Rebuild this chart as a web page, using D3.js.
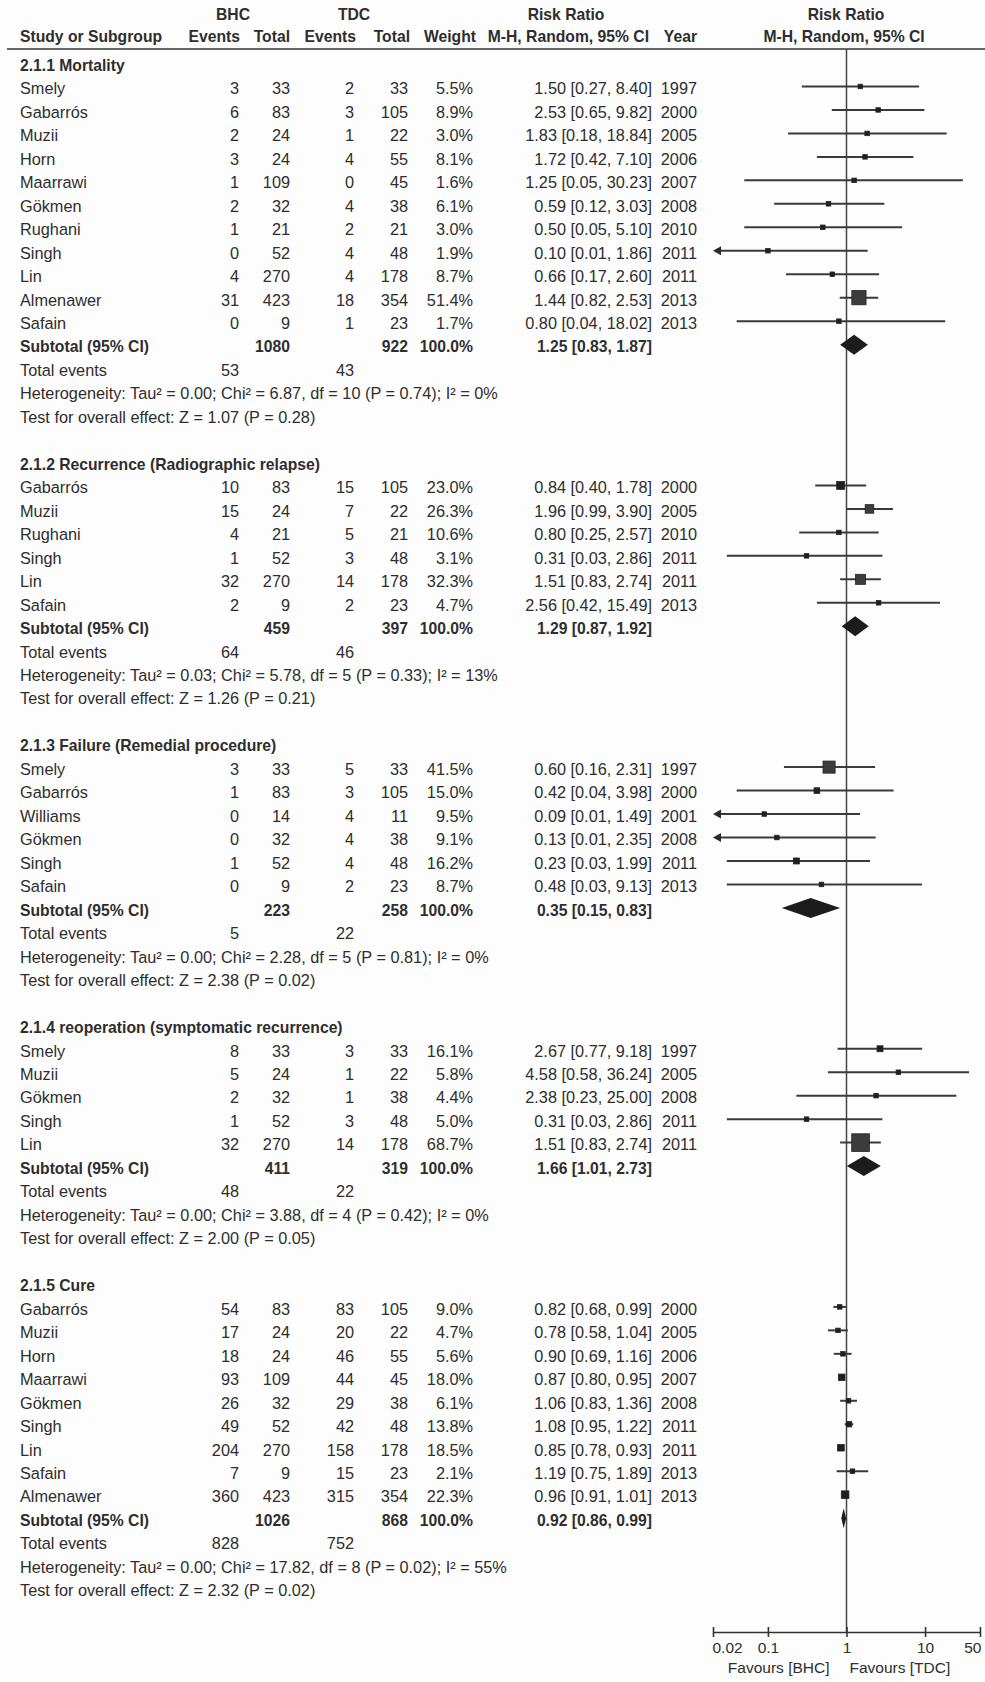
<!DOCTYPE html>
<html>
<head>
<meta charset="utf-8">
<script src="https://cdn.jsdelivr.net/npm/d3@7/dist/d3.min.js"></script>
<style>
  html, body { margin: 0; padding: 0; background: #ffffff; }
  svg { display: block; }
  text { font-family: "Liberation Sans", Arial, sans-serif; font-size: 16.3px; fill: #2e2e2e; }
  text.b { font-weight: bold; font-size: 15.7px; }
  text.ax { font-size: 15.5px; }
</style>
</head>
<body>
<svg id="chart" width="985" height="1682"></svg>
<script>
// ---- 2.1.1 Mortality ----
const mortTitle = "2.1.1 Mortality";
const mortStudies = ["Smely", "Gabarrós", "Muzii", "Horn", "Maarrawi", "Gökmen", "Rughani", "Singh", "Lin", "Almenawer", "Safain"];
const mortBhcEvents = [3, 6, 2, 3, 1, 2, 1, 0, 4, 31, 0];
const mortBhcTotal = [33, 83, 24, 24, 109, 32, 21, 52, 270, 423, 9];
const mortTdcEvents = [2, 3, 1, 4, 0, 4, 2, 4, 4, 18, 1];
const mortTdcTotal = [33, 105, 22, 55, 45, 38, 21, 48, 178, 354, 23];
const mortWeight = [5.5, 8.9, 3.0, 8.1, 1.6, 6.1, 3.0, 1.9, 8.7, 51.4, 1.7];
const mortRR = [1.50, 2.53, 1.83, 1.72, 1.25, 0.59, 0.50, 0.10, 0.66, 1.44, 0.80];
const mortLo = [0.27, 0.65, 0.18, 0.42, 0.05, 0.12, 0.05, 0.01, 0.17, 0.82, 0.04];
const mortHi = [8.40, 9.82, 18.84, 7.10, 30.23, 3.03, 5.10, 1.86, 2.60, 2.53, 18.02];
const mortYear = [1997, 2000, 2005, 2006, 2007, 2008, 2010, 2011, 2011, 2013, 2013];
const mortSubtotal = [1080, 922, 1.25, 0.83, 1.87];
const mortTotalEvents = [53, 43];
const mortHet = "Heterogeneity: Tau² = 0.00; Chi² = 6.87, df = 10 (P = 0.74); I² = 0%";
const mortTest = "Test for overall effect: Z = 1.07 (P = 0.28)";

// ---- 2.1.2 Recurrence ----
const recTitle = "2.1.2 Recurrence (Radiographic relapse)";
const recStudies = ["Gabarrós", "Muzii", "Rughani", "Singh", "Lin", "Safain"];
const recBhcEvents = [10, 15, 4, 1, 32, 2];
const recBhcTotal = [83, 24, 21, 52, 270, 9];
const recTdcEvents = [15, 7, 5, 3, 14, 2];
const recTdcTotal = [105, 22, 21, 48, 178, 23];
const recWeight = [23.0, 26.3, 10.6, 3.1, 32.3, 4.7];
const recRR = [0.84, 1.96, 0.80, 0.31, 1.51, 2.56];
const recLo = [0.40, 0.99, 0.25, 0.03, 0.83, 0.42];
const recHi = [1.78, 3.90, 2.57, 2.86, 2.74, 15.49];
const recYear = [2000, 2005, 2010, 2011, 2011, 2013];
const recSubtotal = [459, 397, 1.29, 0.87, 1.92];
const recTotalEvents = [64, 46];
const recHet = "Heterogeneity: Tau² = 0.03; Chi² = 5.78, df = 5 (P = 0.33); I² = 13%";
const recTest = "Test for overall effect: Z = 1.26 (P = 0.21)";

// ---- 2.1.3 Failure ----
const failTitle = "2.1.3 Failure (Remedial procedure)";
const failStudies = ["Smely", "Gabarrós", "Williams", "Gökmen", "Singh", "Safain"];
const failBhcEvents = [3, 1, 0, 0, 1, 0];
const failBhcTotal = [33, 83, 14, 32, 52, 9];
const failTdcEvents = [5, 3, 4, 4, 4, 2];
const failTdcTotal = [33, 105, 11, 38, 48, 23];
const failWeight = [41.5, 15.0, 9.5, 9.1, 16.2, 8.7];
const failRR = [0.60, 0.42, 0.09, 0.13, 0.23, 0.48];
const failLo = [0.16, 0.04, 0.01, 0.01, 0.03, 0.03];
const failHi = [2.31, 3.98, 1.49, 2.35, 1.99, 9.13];
const failYear = [1997, 2000, 2001, 2008, 2011, 2013];
const failSubtotal = [223, 258, 0.35, 0.15, 0.83];
const failTotalEvents = [5, 22];
const failHet = "Heterogeneity: Tau² = 0.00; Chi² = 2.28, df = 5 (P = 0.81); I² = 0%";
const failTest = "Test for overall effect: Z = 2.38 (P = 0.02)";

// ---- 2.1.4 Reoperation ----
const reopTitle = "2.1.4 reoperation (symptomatic recurrence)";
const reopStudies = ["Smely", "Muzii", "Gökmen", "Singh", "Lin"];
const reopBhcEvents = [8, 5, 2, 1, 32];
const reopBhcTotal = [33, 24, 32, 52, 270];
const reopTdcEvents = [3, 1, 1, 3, 14];
const reopTdcTotal = [33, 22, 38, 48, 178];
const reopWeight = [16.1, 5.8, 4.4, 5.0, 68.7];
const reopRR = [2.67, 4.58, 2.38, 0.31, 1.51];
const reopLo = [0.77, 0.58, 0.23, 0.03, 0.83];
const reopHi = [9.18, 36.24, 25.00, 2.86, 2.74];
const reopYear = [1997, 2005, 2008, 2011, 2011];
const reopSubtotal = [411, 319, 1.66, 1.01, 2.73];
const reopTotalEvents = [48, 22];
const reopHet = "Heterogeneity: Tau² = 0.00; Chi² = 3.88, df = 4 (P = 0.42); I² = 0%";
const reopTest = "Test for overall effect: Z = 2.00 (P = 0.05)";

// ---- 2.1.5 Cure ----
const cureTitle = "2.1.5 Cure";
const cureStudies = ["Gabarrós", "Muzii", "Horn", "Maarrawi", "Gökmen", "Singh", "Lin", "Safain", "Almenawer"];
const cureBhcEvents = [54, 17, 18, 93, 26, 49, 204, 7, 360];
const cureBhcTotal = [83, 24, 24, 109, 32, 52, 270, 9, 423];
const cureTdcEvents = [83, 20, 46, 44, 29, 42, 158, 15, 315];
const cureTdcTotal = [105, 22, 55, 45, 38, 48, 178, 23, 354];
const cureWeight = [9.0, 4.7, 5.6, 18.0, 6.1, 13.8, 18.5, 2.1, 22.3];
const cureRR = [0.82, 0.78, 0.90, 0.87, 1.06, 1.08, 0.85, 1.19, 0.96];
const cureLo = [0.68, 0.58, 0.69, 0.80, 0.83, 0.95, 0.78, 0.75, 0.91];
const cureHi = [0.99, 1.04, 1.16, 0.95, 1.36, 1.22, 0.93, 1.89, 1.01];
const cureYear = [2000, 2005, 2006, 2007, 2008, 2011, 2011, 2013, 2013];
const cureSubtotal = [1026, 868, 0.92, 0.86, 0.99];
const cureTotalEvents = [828, 752];
const cureHet = "Heterogeneity: Tau² = 0.00; Chi² = 17.82, df = 8 (P = 0.02); I² = 55%";
const cureTest = "Test for overall effect: Z = 2.32 (P = 0.02)";

// Axis
const axisTicks = [0.02, 0.1, 1, 10, 50];
const axisTickLabels = ["0.02", "0.1", "1", "10", "50"];
const favoursLeft = "Favours [BHC]";
const favoursRight = "Favours [TDC]";

// Assemble subgroup records for the drawing loop
const sections = [
  [mortTitle, mortStudies, mortBhcEvents, mortBhcTotal, mortTdcEvents, mortTdcTotal, mortWeight, mortRR, mortLo, mortHi, mortYear, mortSubtotal, mortTotalEvents, mortHet, mortTest],
  [recTitle, recStudies, recBhcEvents, recBhcTotal, recTdcEvents, recTdcTotal, recWeight, recRR, recLo, recHi, recYear, recSubtotal, recTotalEvents, recHet, recTest],
  [failTitle, failStudies, failBhcEvents, failBhcTotal, failTdcEvents, failTdcTotal, failWeight, failRR, failLo, failHi, failYear, failSubtotal, failTotalEvents, failHet, failTest],
  [reopTitle, reopStudies, reopBhcEvents, reopBhcTotal, reopTdcEvents, reopTdcTotal, reopWeight, reopRR, reopLo, reopHi, reopYear, reopSubtotal, reopTotalEvents, reopHet, reopTest],
  [cureTitle, cureStudies, cureBhcEvents, cureBhcTotal, cureTdcEvents, cureTdcTotal, cureWeight, cureRR, cureLo, cureHi, cureYear, cureSubtotal, cureTotalEvents, cureHet, cureTest]
].map(s => ({
  title: s[0],
  studies: s[1].map((name, i) => ({
    name, be: s[2][i], bt: s[3][i], te: s[4][i], tt: s[5][i],
    w: s[6][i], rr: s[7][i], lo: s[8][i], hi: s[9][i], year: s[10][i]
  })),
  sub: { bt: s[11][0], tt: s[11][1], rr: s[11][2], lo: s[11][3], hi: s[11][4] },
  events: s[12], het: s[13], test: s[14]
}));

// Flatten into table rows
const rows = [];
sections.forEach((sec, si) => {
  rows.push({ type: "title", text: sec.title });
  sec.studies.forEach(d => rows.push({ type: "study", d }));
  rows.push({ type: "subtotal", d: sec.sub });
  rows.push({ type: "events", d: sec.events });
  rows.push({ type: "note", text: sec.het });
  rows.push({ type: "note", text: sec.test });
  if (si < sections.length - 1) rows.push({ type: "blank" });
});

// ---- layout ----
const W = 985, H = 1682;
const row0 = 65, pitch = 23.47, base = 5.8, markShift = -2;
const col = {
  name: 20, be: 239, bt: 290, te: 354, tt: 408, w: 473, rr: 652, year: 697
};
const plotL = 713, plotR = 980;
const headerLineY = 49;
const axisY = 1632;

const svg = d3.select("#chart");
svg.append("rect").attr("width", W).attr("height", H).attr("fill", "#fdfdfd");

const x = d3.scaleLog().domain([0.02, 50]).range([plotL, plotR]);
const y = i => row0 + i * pitch;

// ---- header ----
const hdr = svg.append("g");
const h1 = 19.5, h2 = 41.5;
hdr.append("text").attr("class", "b").attr("x", 233).attr("y", h1).attr("text-anchor", "middle").text("BHC");
hdr.append("text").attr("class", "b").attr("x", 354).attr("y", h1).attr("text-anchor", "middle").text("TDC");
hdr.append("text").attr("class", "b").attr("x", 566).attr("y", h1).attr("text-anchor", "middle").text("Risk Ratio");
hdr.append("text").attr("class", "b").attr("x", 846).attr("y", h1).attr("text-anchor", "middle").text("Risk Ratio");
[
  ["Study or Subgroup", col.name, "start"],
  ["Events", col.be + 1, "end"],
  ["Total", col.bt, "end"],
  ["Events", col.te + 2, "end"],
  ["Total", col.tt + 2, "end"],
  ["Weight", col.w + 3, "end"],
  ["M-H, Random, 95% CI", 649, "end"],
  ["Year", col.year, "end"],
  ["M-H, Random, 95% CI", 844, "middle"]
].forEach(([t, xx, a]) => {
  hdr.append("text").attr("class", "b").attr("x", xx).attr("y", h2).attr("text-anchor", a).text(t);
});
hdr.append("line").attr("x1", 7).attr("x2", W).attr("y1", headerLineY).attr("y2", headerLineY)
  .attr("stroke", "#333").attr("stroke-width", 1.6);

// ---- line of no effect ----
svg.append("line").attr("x1", x(1)).attr("x2", x(1)).attr("y1", headerLineY).attr("y2", axisY)
  .attr("stroke", "#444").attr("stroke-width", 1.5);

// ---- table rows and marks ----
const fmt = v => v.toFixed(2);
const ciText = d => `${fmt(d.rr)} [${fmt(d.lo)}, ${fmt(d.hi)}]`;
const body = svg.append("g");
const marks = svg.append("g");
const txt = (xx, yy, t, anchor, bold) =>
  body.append("text").attr("x", xx).attr("y", yy).attr("text-anchor", anchor || "end")
    .attr("class", bold ? "b" : null).text(t);

rows.forEach((r, i) => {
  const ty = y(i) + base, cy = y(i) + markShift;
  if (r.type === "title") {
    txt(col.name, ty, r.text, "start", true);
  } else if (r.type === "study") {
    const d = r.d;
    txt(col.name, ty, d.name, "start");
    txt(col.be, ty, d.be);
    txt(col.bt, ty, d.bt);
    txt(col.te, ty, d.te);
    txt(col.tt, ty, d.tt);
    txt(col.w, ty, d.w.toFixed(1) + "%");
    txt(col.rr, ty, ciText(d));
    txt(col.year, ty, d.year);

    // confidence interval whisker, with an arrow where it runs off the scale
    const clipped = d.lo < x.domain()[0];
    const x1 = clipped ? x(x.domain()[0]) + 2 : x(d.lo);
    marks.append("line").attr("x1", x1).attr("x2", x(Math.min(d.hi, x.domain()[1])))
      .attr("y1", cy).attr("y2", cy).attr("stroke", "#3a3a3a").attr("stroke-width", 2);
    if (clipped) {
      const ax = x(x.domain()[0]);
      marks.append("path")
        .attr("d", `M${ax},${cy} L${ax + 8},${cy - 4.5} L${ax + 8},${cy + 4.5} Z`)
        .attr("fill", "#2a2a2a");
    }
    // study weight box
    const s = Math.max(4.5, 0.74 * Math.pow(d.w, 0.75));
    marks.append("rect").attr("x", x(d.rr) - s / 2).attr("y", cy - s / 2)
      .attr("width", s).attr("height", s)
      .attr("fill", s > 8 ? "#3c3c3c" : "#1f1f1f").attr("stroke", "#222").attr("stroke-width", 0.8);
  } else if (r.type === "subtotal") {
    const d = r.d;
    txt(col.name, ty, "Subtotal (95% CI)", "start", true);
    txt(col.bt, ty, d.bt, "end", true);
    txt(col.tt, ty, d.tt, "end", true);
    txt(col.w, ty, "100.0%", "end", true);
    txt(col.rr, ty, ciText(d), "end", true);
    const hh = 10;
    marks.append("path")
      .attr("d", `M${x(d.lo)},${cy} L${x(d.rr)},${cy - hh} L${x(d.hi)},${cy} L${x(d.rr)},${cy + hh} Z`)
      .attr("fill", "#1c1c1c");
  } else if (r.type === "events") {
    txt(col.name, ty, "Total events", "start");
    txt(col.be, ty, r.d[0]);
    txt(col.te, ty, r.d[1]);
  } else if (r.type === "note") {
    txt(col.name, ty, r.text, "start");
  }
});

// ---- axis ----
const axis = d3.axisBottom(x).tickValues(axisTicks)
  .tickFormat((d, i) => axisTickLabels[i]).tickSizeOuter(0).tickSizeInner(5).tickPadding(5);
const ag = svg.append("g").attr("transform", `translate(0,${axisY})`).call(axis);
ag.select(".domain").attr("stroke", "#333").attr("stroke-width", 1.6);
ag.selectAll(".tick line").attr("y1", -5).attr("y2", 5).attr("stroke", "#333").attr("stroke-width", 1.6);
ag.selectAll(".tick text")
  .attr("class", "ax")
  .style("font-family", "\"Liberation Sans\", Arial, sans-serif").style("font-size", "15.5px")
  .attr("fill", "#2e2e2e")
  .attr("text-anchor", (d, i) => i === 0 ? "start" : (i === axisTicks.length - 1 ? "end" : "middle"))
  .attr("dx", (d, i) => i === 0 ? -1 : (i === axisTicks.length - 1 ? 1 : 0));

svg.append("text").attr("class", "ax").attr("x", x(1) - 17).attr("y", axisY + 41).attr("text-anchor", "end").text(favoursLeft);
svg.append("text").attr("class", "ax").attr("x", x(1) + 3).attr("y", axisY + 41).attr("text-anchor", "start").text(favoursRight);
</script>
</body>
</html>
